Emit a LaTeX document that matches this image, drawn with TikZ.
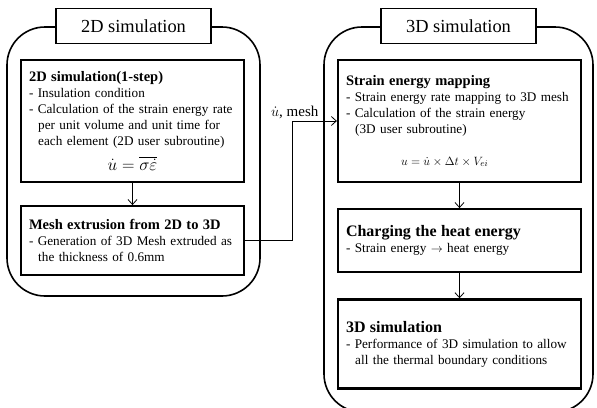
\documentclass[tikz,border=0pt]{standalone}
\usepackage{fontspec}
\setmainfont{Liberation Serif}
\usetikzlibrary{arrows.meta, positioning}
\newcommand{\stephead}[1]{{\fontsize{14.5}{16}\selectfont\bfseries #1}}
\newcommand{\bighead}[1]{{\fontsize{16}{17}\selectfont\bfseries #1}}
\newcommand{\cont}{\hspace*{0.7em}}

\begin{document}
\begin{tikzpicture}[x=1pt, y=-1pt,
    every node/.style={font=\fontsize{13.2}{16}\selectfont},
    frame/.style={draw, line width=1.6pt, rounded corners=38pt},
    title/.style={draw, line width=1.5pt, fill=white, minimum width=155pt, minimum height=35pt, font=\fontsize{18.4}{20}\selectfont},
    stage/.style={draw, line width=2.2pt, fill=white, align=left, inner xsep=8pt},
    lstage/.style={stage, minimum width=223pt, text width=207pt},
    rstage/.style={stage, minimum width=243pt, text width=227pt},
    arr/.style={-{Straight Barb[length=5pt, width=9pt]}, line width=0.8pt}
]
\useasboundingbox (0,0) rectangle (597,407);

% containers
\node[frame, minimum width=253pt, minimum height=269pt] (left) at (133.5,161.5) {};
\node[frame, minimum width=269pt, minimum height=385pt] (right) at (458.5,219.5) {};
\node[title] (t2d) at (left.north) {2D simulation};
\node[title] (t3d) at (right.north) {3D simulation};

% 2D side
\node[lstage, minimum height=122pt] (sim2d) at (132.5,121) {%
    \stephead{2D simulation(1-step)}\\
    - Insulation condition\\
    - Calculation of the strain energy rate\\
    \cont per unit volume and unit time for\\
    \cont each element (2D user subroutine)\\[7pt]
    \makebox[\linewidth]{\fontsize{16}{16}\selectfont$\dot{u}=\overline{\sigma\dot{\varepsilon}}$}};
\node[lstage, minimum height=69pt, below=22pt of sim2d] (mesh) {%
    \stephead{Mesh extrusion from 2D to 3D}\\
    - Generation of 3D Mesh extruded as\\
    \cont the thickness of 0.6mm};

% 3D side
\node[rstage, minimum height=122pt] (map) at (459.5,121) {%
    \stephead{Strain energy mapping}\\
    - Strain energy rate mapping to 3D mesh\\
    - Calculation of the strain energy\\
    \cont(3D user subroutine)\\[16pt]
    \hspace*{55pt}$u=\dot{u}\times\Delta t\times V_{ei}$};
\node[rstage, minimum height=63pt, below=25pt of map] (heat) {%
    \bighead{Charging the heat energy}\\
    - Strain energy $\rightarrow$ heat energy};
\node[rstage, minimum height=89pt, below=25pt of heat] (sim3d) {%
    \bighead{3D simulation}\\
    - Performance of 3D simulation to allow\\
    \cont all the thermal boundary conditions};

% connectors
\draw[arr] (sim2d) -- (mesh);
\draw[arr] (mesh.east) -- ++(47,0) |- (map.west)
    node[pos=0.82, anchor=south east, inner sep=2pt, font=\fontsize{15}{16}\selectfont] (pass) {$\dot{u}$,\ mesh};
\draw[arr] (map) -- (heat);
\draw[arr] (heat) -- (sim3d);
\end{tikzpicture}
\end{document}
